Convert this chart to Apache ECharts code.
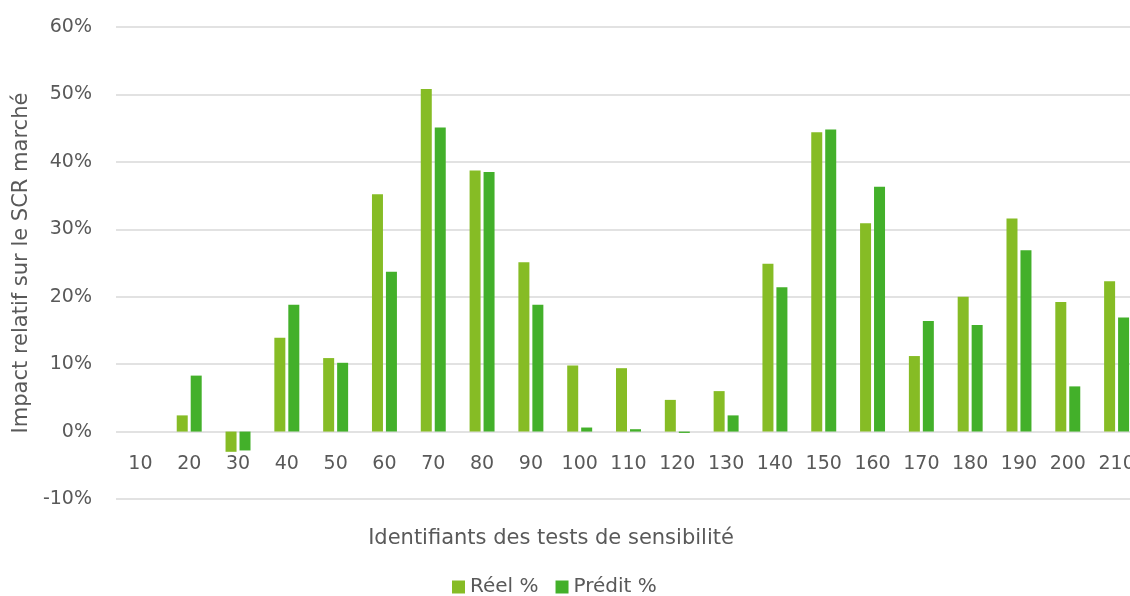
<!DOCTYPE html>
<html>
<head>
<meta charset="utf-8">
<script src="https://cdn.jsdelivr.net/npm/echarts@6/dist/echarts.min.js"></script>
<style>
  html, body { margin: 0; padding: 0; background: #ffffff; }
  #chart { width: 1130px; height: 596px; }
</style>
</head>
<body>
<div id="chart"></div>
<script>
// Identifiants des tests de sensibilité
const categories = ['10', '20', '30', '40', '50', '60', '70', '80', '90', '100', '110',
  '120', '130', '140', '150', '160', '170', '180', '190', '200', '210'];

// Impact relatif sur le SCR marché, en %
const reel = [0, 2.4, -3.0, 13.9, 10.9, 35.2, 50.8, 38.7, 25.1, 9.8, 9.4,
  4.7, 6.0, 24.9, 44.4, 30.9, 11.2, 20.0, 31.6, 19.2, 22.3];
const predit = [0, 8.3, -2.8, 18.8, 10.2, 23.7, 45.1, 38.5, 18.8, 0.6, 0.35,
  -0.2, 2.4, 21.4, 44.8, 36.3, 16.4, 15.8, 26.9, 6.7, 16.9];

const yTicks = { min: -10, max: 60, interval: 10 };

const FONT = '"DejaVu Sans", "Noto Sans", sans-serif';
const TEXT = '#595959';
const GRID = '#D9D9D9';

const GRID_TOP = 27;
const GRID_HEIGHT = 472;
// the category axis sits on the 0 % line, one interval above the bottom of the plot
const zeroOffset = -GRID_HEIGHT * (0 - yTicks.min) / (yTicks.max - yTicks.min);

const chart = echarts.init(document.getElementById('chart'), null, { renderer: 'canvas' });

chart.setOption({
  animation: false,
  backgroundColor: '#ffffff',
  textStyle: { fontFamily: FONT },
  grid: {
    left: 116, top: GRID_TOP, width: 1025, height: GRID_HEIGHT,
    containLabel: false, outerBoundsMode: 'none'
  },
  title: {
    text: 'Identifiants des tests de sensibilité',
    left: 551,
    top: 528,
    padding: 0,
    textAlign: 'center',
    textStyle: { fontFamily: FONT, fontSize: 21, fontWeight: 'normal', color: TEXT }
  },
  legend: {
    left: 452,
    top: 577,
    padding: 0,
    itemWidth: 13,
    itemHeight: 13,
    itemGap: 17,
    icon: 'rect',
    textStyle: { fontFamily: FONT, fontSize: 20, color: TEXT },
    data: ['Réel %', 'Prédit %']
  },
  xAxis: {
    type: 'category',
    data: categories,
    position: 'bottom',
    offset: zeroOffset,
    axisLine: { show: false, onZero: false },
    axisTick: { show: false },
    axisLabel: { fontFamily: FONT, fontSize: 19, color: TEXT, margin: 23, interval: 0 }
  },
  yAxis: {
    type: 'value',
    min: yTicks.min,
    max: yTicks.max,
    interval: yTicks.interval,
    name: 'Impact relatif sur le SCR marché',
    nameLocation: 'middle',
    nameGap: 83,
    nameTextStyle: { fontFamily: FONT, fontSize: 21, color: TEXT },
    axisLine: { show: false },
    axisTick: { show: false },
    axisLabel: {
      fontFamily: FONT, fontSize: 19, color: TEXT, margin: 24,
      formatter: v => v + '%'
    },
    splitLine: { lineStyle: { color: GRID, width: 1.5 } }
  },
  series: [
    {
      name: 'Réel %',
      type: 'bar',
      data: reel,
      barWidth: 11,
      barGap: '27%',
      itemStyle: { color: '#86BC25' }
    },
    {
      name: 'Prédit %',
      type: 'bar',
      data: predit,
      barWidth: 11,
      barGap: '27%',
      itemStyle: { color: '#43B02A' }
    }
  ]
});
</script>
</body>
</html>
